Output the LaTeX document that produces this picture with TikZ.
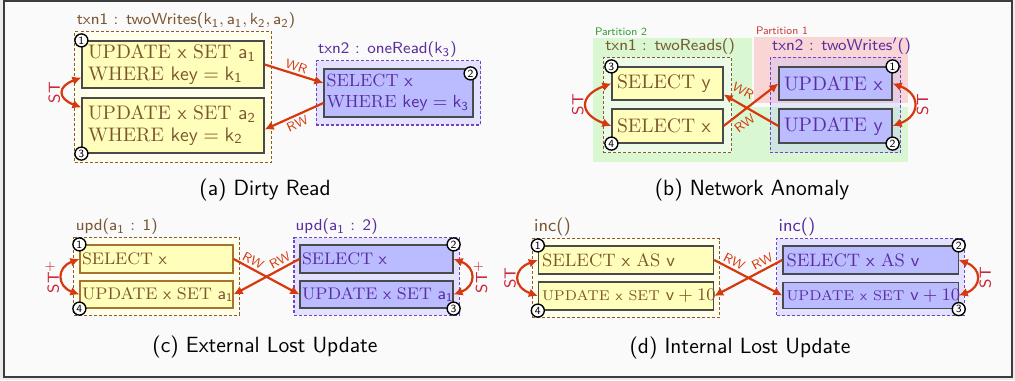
\RequirePackage{fix-cm}
\documentclass[tikz,border=0pt]{standalone}
\usepackage{fontspec}
\usepackage{amsmath}
\usepackage{tikz}
\usetikzlibrary{arrows.meta,fit,backgrounds}

\definecolor{brtext}{HTML}{7A5530}
\definecolor{putext}{HTML}{5A2DA0}
\definecolor{yelfill}{HTML}{FFFFBB}
\definecolor{purfill}{HTML}{BBBBFF}
\definecolor{purlite}{HTML}{E2E2FF}
\definecolor{yellite}{HTML}{FFFFEC}
\definecolor{brdash}{HTML}{8E5C2C}
\definecolor{pudash}{HTML}{7443C8}
\definecolor{arrred}{HTML}{D6390E}
\definecolor{stred}{HTML}{C9283A}
\definecolor{grzone}{HTML}{D9F8D2}
\definecolor{pkzone}{HTML}{FAD5D5}
\definecolor{grlab}{HTML}{2F9A2F}
\definecolor{pklab}{HTML}{C83A3A}
\definecolor{boxline}{HTML}{4A4A4A}
\definecolor{ybrline}{HTML}{A8732F}
\definecolor{framebg}{HTML}{FAFAFA}
\definecolor{framedraw}{HTML}{3C3C3C}

\begin{document}
\begin{tikzpicture}[
x=0.5pt, y=0.5pt,
qbox/.style={
  draw=boxline,
  line width=0.6pt,
  align=left,
  inner ysep=0pt,
  text width=#1
  },
ybox/.style={qbox=#1, fill=yelfill, text=brtext},
pbox/.style={qbox=#1, fill=purfill, text=putext},
brgroup/.style={draw=brdash, dash pattern=on 1.5pt off 1pt, line width=0.5pt, fill=yellite},
pugroup/.style={draw=pudash, dash pattern=on 1.5pt off 1pt, line width=0.6pt, fill=purlite},
txnlab/.style={anchor=south west, inner sep=1pt, font=\fontsize{8}{9}\sffamily},
numc/.style={
  circle, draw=black, fill=white, line width=0.7pt, inner sep=0pt,
  minimum size=6.5pt, font=\fontsize{5.5}{6}\sffamily
  },
dep/.style={draw=arrred, line width=1.1pt, -{Latex[length=4.5pt,width=4.5pt]}},
stdep/.style={
  draw=arrred, line width=1.1pt,
  {Latex[length=4.5pt,width=4.5pt]}-{Latex[length=4.5pt,width=4.5pt]}
  },
deplab/.style={sloped, text=arrred, inner sep=1.2pt, font=\fontsize{6.5}{7}\sffamily},
stlab/.style={text=stred, inner sep=1pt, rotate=90, font=\fontsize{8}{9}\sffamily},
caption/.style={font=\fontsize{11}{13}\sffamily}
]
\useasboundingbox (0,0) rectangle (1015,380);

% frame and network partitions
\begin{scope}[on background layer]
\fill[gray!15] (0,0) rectangle (1015,380);
\draw[draw=framedraw, fill=framebg, line width=1pt] (4,3) rectangle (1012,378.5);
\fill[grzone] (593,218) rectangle (752,342);
\fill[grzone] (752,218) rectangle (908,273);
\fill[pkzone] (754,277) rectangle (908,343);
\end{scope}
\node[anchor=south west, inner sep=0.8pt, text=grlab, font=\fontsize{5.5}{6}\sffamily] (pt2) at (593,342) {Partition 2};
\node[anchor=south west, inner sep=0.8pt, text=pklab, font=\fontsize{5.5}{6}\sffamily] (pt1) at (754,343) {Partition 1};

% (a) dirty read
\node[ybox=85pt, inner xsep=3pt, minimum height=23.5pt, font=\fontsize{9.8}{10.8}\selectfont] (a1) at (173,315.5)
  {\mbox{UPDATE $\mathsf{x}$ SET $\mathsf{a_1}$}\\\mbox{WHERE $\mathsf{key}=\mathsf{k_1}$}};
\node[ybox=85pt, inner xsep=3pt, minimum height=27.5pt, font=\fontsize{9.8}{10.8}\selectfont] (a2) at (173,254.5)
  {\mbox{UPDATE $\mathsf{x}$ SET $\mathsf{a_2}$}\\\mbox{WHERE $\mathsf{key}=\mathsf{k_2}$}};
\node[pbox=72pt, inner xsep=1.25pt, minimum height=24pt, font=\fontsize{8.8}{10.5}\selectfont] (a3) at (398.5,287)
  {\mbox{SELECT $\mathsf{x}$}\\\mbox{WHERE $\mathsf{key}=\mathsf{k_3}$}};

% (b) network anomaly
\node[ybox=50.5pt, inner xsep=2.5pt, minimum height=16.5pt, font=\fontsize{9.8}{11}\selectfont] (by) at (667.5,296.5) {\mbox{SELECT $\mathsf{y}$}};
\node[ybox=50.5pt, inner xsep=2.5pt, minimum height=17pt, font=\fontsize{9.8}{11}\selectfont] (bx) at (667.5,254) {\mbox{SELECT $\mathsf{x}$}};
\node[pbox=51.5pt, inner xsep=2.5pt, minimum height=16.5pt, font=\fontsize{9.8}{11}\selectfont] (ux) at (835.5,296.5) {\mbox{UPDATE $\mathsf{x}$}};
\node[pbox=51.5pt, inner xsep=2.5pt, minimum height=17pt, font=\fontsize{9.8}{11}\selectfont] (uy) at (835.5,254) {\mbox{UPDATE $\mathsf{y}$}};

% (c) external lost update
\node[ybox=74.5pt, draw=ybrline, inner xsep=1pt, minimum height=14pt, font=\fontsize{8.4}{10}\selectfont] (cs1) at (156.5,121) {\mbox{SELECT $\mathsf{x}$}};
\node[ybox=74.5pt, draw=ybrline, inner xsep=1pt, minimum height=13.5pt, font=\fontsize{8.4}{10}\selectfont] (cu1) at (156.5,85.5) {\mbox{UPDATE $\mathsf{x}$ SET $\mathsf{a_1}$}};
\node[pbox=74.5pt, inner xsep=1pt, minimum height=14pt, font=\fontsize{8.4}{10}\selectfont] (cs2) at (376.5,121) {\mbox{SELECT $\mathsf{x}$}};
\node[pbox=74.5pt, inner xsep=1pt, minimum height=13.5pt, font=\fontsize{8.4}{10}\selectfont] (cu2) at (376.5,85.5) {\mbox{UPDATE $\mathsf{x}$ SET $\mathsf{a_1}$}};

% (d) internal lost update
\node[ybox=84pt, inner xsep=1.8pt, minimum height=14pt, font=\fontsize{9}{10}\selectfont] (ds1) at (626,120) {\mbox{SELECT $\mathsf{x}$ AS $\mathsf{v}$}};
\node[ybox=84pt, inner xsep=1.8pt, minimum height=14pt, font=\fontsize{8.8}{10}\selectfont] (du1) at (626,84)
  {\mbox{{\fontsize{7.1}{9}\selectfont UPDATE $\mathsf{x}$ SET} $\mathsf{v}+10$}};
\node[pbox=84pt, inner xsep=1.8pt, minimum height=14pt, font=\fontsize{9}{10}\selectfont] (ds2) at (870.5,120) {\mbox{SELECT $\mathsf{x}$ AS $\mathsf{v}$}};
\node[pbox=84pt, inner xsep=1.8pt, minimum height=13pt, font=\fontsize{8.8}{10}\selectfont] (du2) at (870.5,84.5)
  {\mbox{{\fontsize{7.1}{9}\selectfont UPDATE $\mathsf{x}$ SET} $\mathsf{v}+10$}};

% transaction groups
\begin{scope}[on background layer]
\node[brgroup, fit=(a1)(a2), inner xsep=3.25pt, inner ysep=4.5pt] (ga1) {};
\node[pugroup, fit=(a3), inner xsep=3.5pt, inner ysep=3.75pt] (ga2) {};
\node[brgroup, fill=white, fill opacity=0.5, fit=(by)(bx), inner xsep=4pt, inner ysep=4.5pt] (gb1) {};
\node[pugroup, fill=purfill, fill opacity=0.3, fit=(ux)(uy), inner xsep=4pt, inner ysep=4.5pt] (gb2) {};
\node[brgroup, fit=(cs1)(cu1), inner xsep=2.75pt, inner ysep=3.25pt] (gc1) {};
\node[pugroup, fit=(cs2)(cu2), inner xsep=2.75pt, inner ysep=3.25pt] (gc2) {};
\node[brgroup, fit=(ds1)(du1), inner xsep=2.75pt, inner ysep=3.25pt] (gd1) {};
\node[pugroup, fit=(ds2)(du2), inner xsep=2.75pt, inner ysep=3.25pt] (gd2) {};
\end{scope}

\node[txnlab, text=brtext] (la1) at (ga1.north west) {txn1 : twoWrites($\mathsf{k_1,a_1,k_2,a_2}$)};
\node[txnlab, text=putext] (la2) at (ga2.north west) {txn2 : oneRead($\mathsf{k_3}$)};
\node[txnlab, text=brtext] (lb1) at (gb1.north west) {txn1 : twoReads()};
\node[txnlab, text=putext] (lb2) at (gb2.north west) {txn2 : twoWrites$'$()};
\node[txnlab, text=brtext] (lc1) at (gc1.north west) {upd($\mathsf{a_1}$ : 1)};
\node[txnlab, text=putext] (lc2) at (gc2.north west) {upd($\mathsf{a_1}$ : 2)};
\node[txnlab, text=brtext, font=\fontsize{9}{10}\sffamily] (ld1) at (gd1.north west) {inc()};
\node[txnlab, text=putext, font=\fontsize{9}{10}\sffamily] (ld2) at (gd2.north west) {inc()};

% order numbers
\foreach \Box/\Corner/\Num in {a1/north west/1, a2/south west/3,
  by/north west/3, bx/south west/4, ux/north east/1, uy/south east/2,
  cs1/north west/1, cu1/south west/4, cs2/north east/2, cu2/south east/3,
  ds1/north west/1, du1/south west/4, ds2/north east/2, du2/south east/3}
  \node[numc] (n\Box) at (\Box.\Corner) {\Num};
\node[numc] (na3) at ([shift={(-1.5pt,-2.5pt)}]a3.north east) {2};

% dependencies
\path
([yshift=5.5pt]a1.south west) edge[stdep, out=200, in=160, looseness=2.2] node[stlab, anchor=south] {ST} ([yshift=-5pt]a2.north west)
(a1.east) edge[dep] node[deplab, above] {WR} ([yshift=5pt]a3.west)
([yshift=-5pt]a3.west) edge[dep] node[deplab, below] {RW} ([yshift=-2pt]a2.east);

\path
(by.west) edge[stdep, out=200, in=160, looseness=2.1] node[stlab, anchor=south] {ST} (bx.west)
(ux.east) edge[stdep, out=-20, in=20, looseness=1.8] node[stlab, anchor=north] {ST} (uy.east)
(uy.west) edge[dep] node[deplab, above=2.5pt, pos=0.76] {WR} ([yshift=-5.5pt]by.east)
(bx.east) edge[dep] node[deplab, below=1.5pt, pos=0.26] {RW} (ux.west);

\path
(cs1.west) edge[stdep, out=200, in=160, looseness=1.75] node[stlab, anchor=south] {ST$^{+}$} (cu1.west)
(cs2.east) edge[stdep, out=-20, in=20, looseness=1.75] node[stlab, anchor=north] {ST$^{+}$} (cu2.east)
(cs1.east) edge[dep] node[deplab, above, pos=0.24] {RW} (cu2.west)
(cs2.west) edge[dep] node[deplab, above, pos=0.24] {RW} (cu1.east);

\path
(ds1.west) edge[stdep, out=200, in=160, looseness=1.9] node[stlab, anchor=south] {ST} (du1.west)
(ds2.east) edge[stdep, out=-20, in=20, looseness=1.8] node[stlab, anchor=north] {ST} (du2.east)
(ds1.east) edge[dep] node[deplab, above, pos=0.24] {RW} (du2.west)
(ds2.west) edge[dep] node[deplab, above, pos=0.24] {RW} (du1.east);

% captions
\node[caption] (capa) at (265,190) {(a) Dirty Read};
\node[caption] (capb) at (752,190) {(b) Network Anomaly};
\node[caption] (capc) at (265,33) {(c) External Lost Update};
\node[caption] (capd) at (740,32) {(d) Internal Lost Update};
\end{tikzpicture}
\end{document}
